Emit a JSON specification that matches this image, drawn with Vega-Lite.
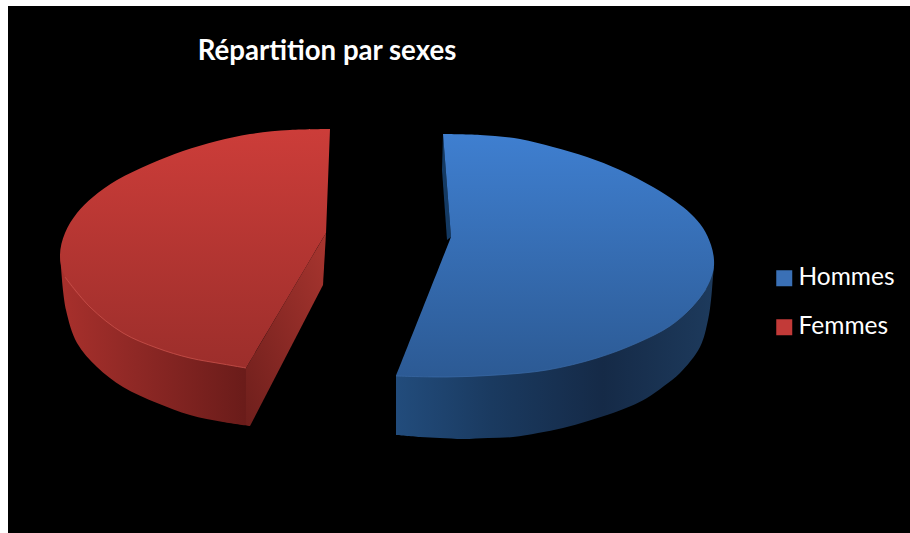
{
"$schema":"https://vega.github.io/schema/vega-lite/v6.json",
"width":910,"height":533,"padding":0,"autosize":"none","background":"white",
"config":{"view":{"stroke":null}},
"datasets":{
"fond":[{"x":8,"x2":910,"y":6,"y2":533}],
"titre":[{"texte":"Répartition par sexes","x":327,"y":52}],
"parts":[{"sexe":"Hommes","x":560,"y":260},{"sexe":"Femmes","x":190,"y":250}],
"blue_side":[{"o":1,"x":396,"y":376},{"o":2,"x":714,"y":267},{"o":3,"x":714,"y":267},{"o":4,"x":713,"y":277},{"o":5,"x":711,"y":300},{"o":6,"x":708,"y":320},{"o":7,"x":700,"y":347},{"o":8,"x":680,"y":373},{"o":9,"x":664,"y":386},{"o":10,"x":647,"y":398},{"o":11,"x":631,"y":406},{"o":12,"x":613,"y":413},{"o":13,"x":588,"y":421},{"o":14,"x":563,"y":428},{"o":15,"x":538,"y":433},{"o":16,"x":513,"y":437},{"o":17,"x":488,"y":438},{"o":18,"x":463,"y":439},{"o":19,"x":440,"y":438},{"o":20,"x":420,"y":437},{"o":21,"x":396,"y":435}],
"blue_band":[{"o":1,"x":443,"y":134},{"o":2,"x":451,"y":237},{"o":3,"x":447,"y":240},{"o":4,"x":442,"y":170}],
"blue_top":[{"o":1,"x":443,"y":134},{"o":2,"x":443,"y":134},{"o":3,"x":480,"y":135},{"o":4,"x":520,"y":139},{"o":5,"x":553,"y":147},{"o":6,"x":587,"y":157},{"o":7,"x":620,"y":170},{"o":8,"x":653,"y":187},{"o":9,"x":675,"y":201},{"o":10,"x":691,"y":214},{"o":11,"x":703,"y":228},{"o":12,"x":711,"y":245},{"o":13,"x":714,"y":260},{"o":14,"x":713,"y":272},{"o":15,"x":706,"y":289},{"o":16,"x":692,"y":307},{"o":17,"x":670,"y":326},{"o":18,"x":637,"y":343},{"o":19,"x":597,"y":358},{"o":20,"x":547,"y":370},{"o":21,"x":497,"y":375},{"o":22,"x":447,"y":377},{"o":23,"x":396,"y":376},{"o":24,"x":396,"y":376},{"o":25,"x":451,"y":237},{"o":26,"x":451,"y":237}],
"blue_rim":[{"o":1,"x":396,"y":376},{"o":2,"x":447,"y":377},{"o":3,"x":497,"y":375},{"o":4,"x":547,"y":370},{"o":5,"x":597,"y":358},{"o":6,"x":637,"y":343},{"o":7,"x":670,"y":326},{"o":8,"x":692,"y":307},{"o":9,"x":706,"y":289}],
"red_side":[{"o":1,"x":60,"y":255},{"o":2,"x":246,"y":368},{"o":3,"x":250,"y":426},{"o":4,"x":250,"y":426},{"o":5,"x":223,"y":422},{"o":6,"x":190,"y":415},{"o":7,"x":157,"y":403},{"o":8,"x":123,"y":387},{"o":9,"x":97,"y":367},{"o":10,"x":77,"y":343},{"o":11,"x":66,"y":310},{"o":12,"x":62,"y":280}],
"red_cut":[{"o":1,"x":246,"y":368},{"o":2,"x":326,"y":233},{"o":3,"x":323,"y":285},{"o":4,"x":250,"y":426},{"o":5,"x":246,"y":425}],
"red_top":[{"o":1,"x":330,"y":129},{"o":2,"x":330,"y":129},{"o":3,"x":290,"y":130},{"o":4,"x":250,"y":134},{"o":5,"x":217,"y":141},{"o":6,"x":183,"y":151},{"o":7,"x":150,"y":164},{"o":8,"x":117,"y":180},{"o":9,"x":93,"y":197},{"o":10,"x":77,"y":213},{"o":11,"x":65,"y":233},{"o":12,"x":60,"y":255},{"o":13,"x":65,"y":277},{"o":14,"x":90,"y":307},{"o":15,"x":123,"y":333},{"o":16,"x":157,"y":348},{"o":17,"x":190,"y":358},{"o":18,"x":223,"y":364},{"o":19,"x":246,"y":368},{"o":20,"x":246,"y":368},{"o":21,"x":326,"y":233},{"o":22,"x":326,"y":233}],
"red_rim":[{"o":1,"x":65,"y":277},{"o":2,"x":90,"y":307},{"o":3,"x":123,"y":333},{"o":4,"x":157,"y":348},{"o":5,"x":190,"y":358},{"o":6,"x":223,"y":364},{"o":7,"x":246,"y":368}]
},
"layer":[
{"data":{"name":"fond"},"mark":{"type":"rect","fill":"black"},
 "encoding":{"x":{"field":"x","type":"quantitative","scale":{"domain":[0,910],"nice":false,"zero":false},"axis":null},"x2":{"field":"x2"},"y":{"field":"y","type":"quantitative","scale":{"domain":[533,0],"nice":false,"zero":false},"axis":null},"y2":{"field":"y2"}}},
{"data":{"name":"blue_side"},
 "mark":{"type":"line","interpolate":"catmull-rom","strokeWidth":0,"fill":{"gradient":"linear","x1":0,"y1":0,"x2":1,"y2":0,"stops":[{"offset":0,"color":"#224c7c"},{"offset":0.3,"color":"#1a3a60"},{"offset":0.65,"color":"#152a47"},{"offset":1,"color":"#1d3a5c"}]}},
 "encoding":{"x":{"field":"x","type":"quantitative","axis":null},"y":{"field":"y","type":"quantitative","axis":null},"order":{"field":"o","type":"quantitative"}}},
{"data":{"name":"blue_band"},
 "mark":{"type":"line","strokeWidth":0,"fill":"#143a63"},
 "encoding":{"x":{"field":"x","type":"quantitative","axis":null},"y":{"field":"y","type":"quantitative","axis":null},"order":{"field":"o","type":"quantitative"}}},
{"data":{"name":"blue_top"},
 "mark":{"type":"line","interpolate":"catmull-rom","strokeWidth":0,"fill":{"gradient":"linear","x1":0,"y1":0,"x2":0,"y2":1,"stops":[{"offset":0,"color":"#3f7fd0"},{"offset":1,"color":"#2c5a94"}]}},
 "encoding":{"x":{"field":"x","type":"quantitative","axis":null},"y":{"field":"y","type":"quantitative","axis":null},"order":{"field":"o","type":"quantitative"}}},
{"data":{"name":"blue_rim"},
 "mark":{"type":"line","interpolate":"catmull-rom","strokeWidth":1,"stroke":"#3a6ba8","opacity":0.7},
 "encoding":{"x":{"field":"x","type":"quantitative","axis":null},"y":{"field":"y","type":"quantitative","axis":null},"order":{"field":"o","type":"quantitative"}}},
{"data":{"name":"red_side"},
 "mark":{"type":"line","interpolate":"catmull-rom","strokeWidth":0,"fill":{"gradient":"linear","x1":0,"y1":0,"x2":1,"y2":0,"stops":[{"offset":0,"color":"#a8302c"},{"offset":0.4,"color":"#8e2825"},{"offset":1,"color":"#681b19"}]}},
 "encoding":{"x":{"field":"x","type":"quantitative","axis":null},"y":{"field":"y","type":"quantitative","axis":null},"order":{"field":"o","type":"quantitative"}}},
{"data":{"name":"red_cut"},
 "mark":{"type":"line","strokeWidth":0,"fill":{"gradient":"linear","x1":0,"y1":1,"x2":1,"y2":0,"stops":[{"offset":0,"color":"#6f1f1c"},{"offset":1,"color":"#a8352f"}]}},
 "encoding":{"x":{"field":"x","type":"quantitative","axis":null},"y":{"field":"y","type":"quantitative","axis":null},"order":{"field":"o","type":"quantitative"}}},
{"data":{"name":"red_top"},
 "mark":{"type":"line","interpolate":"catmull-rom","strokeWidth":0,"fill":{"gradient":"linear","x1":0,"y1":0,"x2":0,"y2":1,"stops":[{"offset":0,"color":"#cc3d39"},{"offset":1,"color":"#9c2e2b"}]}},
 "encoding":{"x":{"field":"x","type":"quantitative","axis":null},"y":{"field":"y","type":"quantitative","axis":null},"order":{"field":"o","type":"quantitative"}}},
{"data":{"name":"red_rim"},
 "mark":{"type":"line","interpolate":"catmull-rom","strokeWidth":1,"stroke":"#c9514b","opacity":0.8},
 "encoding":{"x":{"field":"x","type":"quantitative","axis":null},"y":{"field":"y","type":"quantitative","axis":null},"order":{"field":"o","type":"quantitative"}}},
{"data":{"name":"parts"},"mark":{"type":"point","filled":true,"size":0},
 "encoding":{"x":{"field":"x","type":"quantitative","axis":null},"y":{"field":"y","type":"quantitative","axis":null},
 "color":{"field":"sexe","type":"nominal","scale":{"domain":["Hommes","Femmes"],"range":["#3a70b6","#c23a38"]},
  "legend":{"orient":"none","legendX":772,"legendY":266,"title":null,"symbolType":"square","symbolSize":256,"symbolOpacity":1,"symbolStrokeWidth":0,"labelColor":"white","labelFont":"Lato","labelFontSize":24.5,"rowPadding":24,"labelOffset":2}}}},
{"data":{"name":"titre"},"mark":{"type":"text","font":"Lato","fontWeight":"bold","fontSize":27.6,"color":"white","align":"center","baseline":"middle"},
 "encoding":{"x":{"field":"x","type":"quantitative","axis":null},"y":{"field":"y","type":"quantitative","axis":null},"text":{"field":"texte"}}}
]
}
